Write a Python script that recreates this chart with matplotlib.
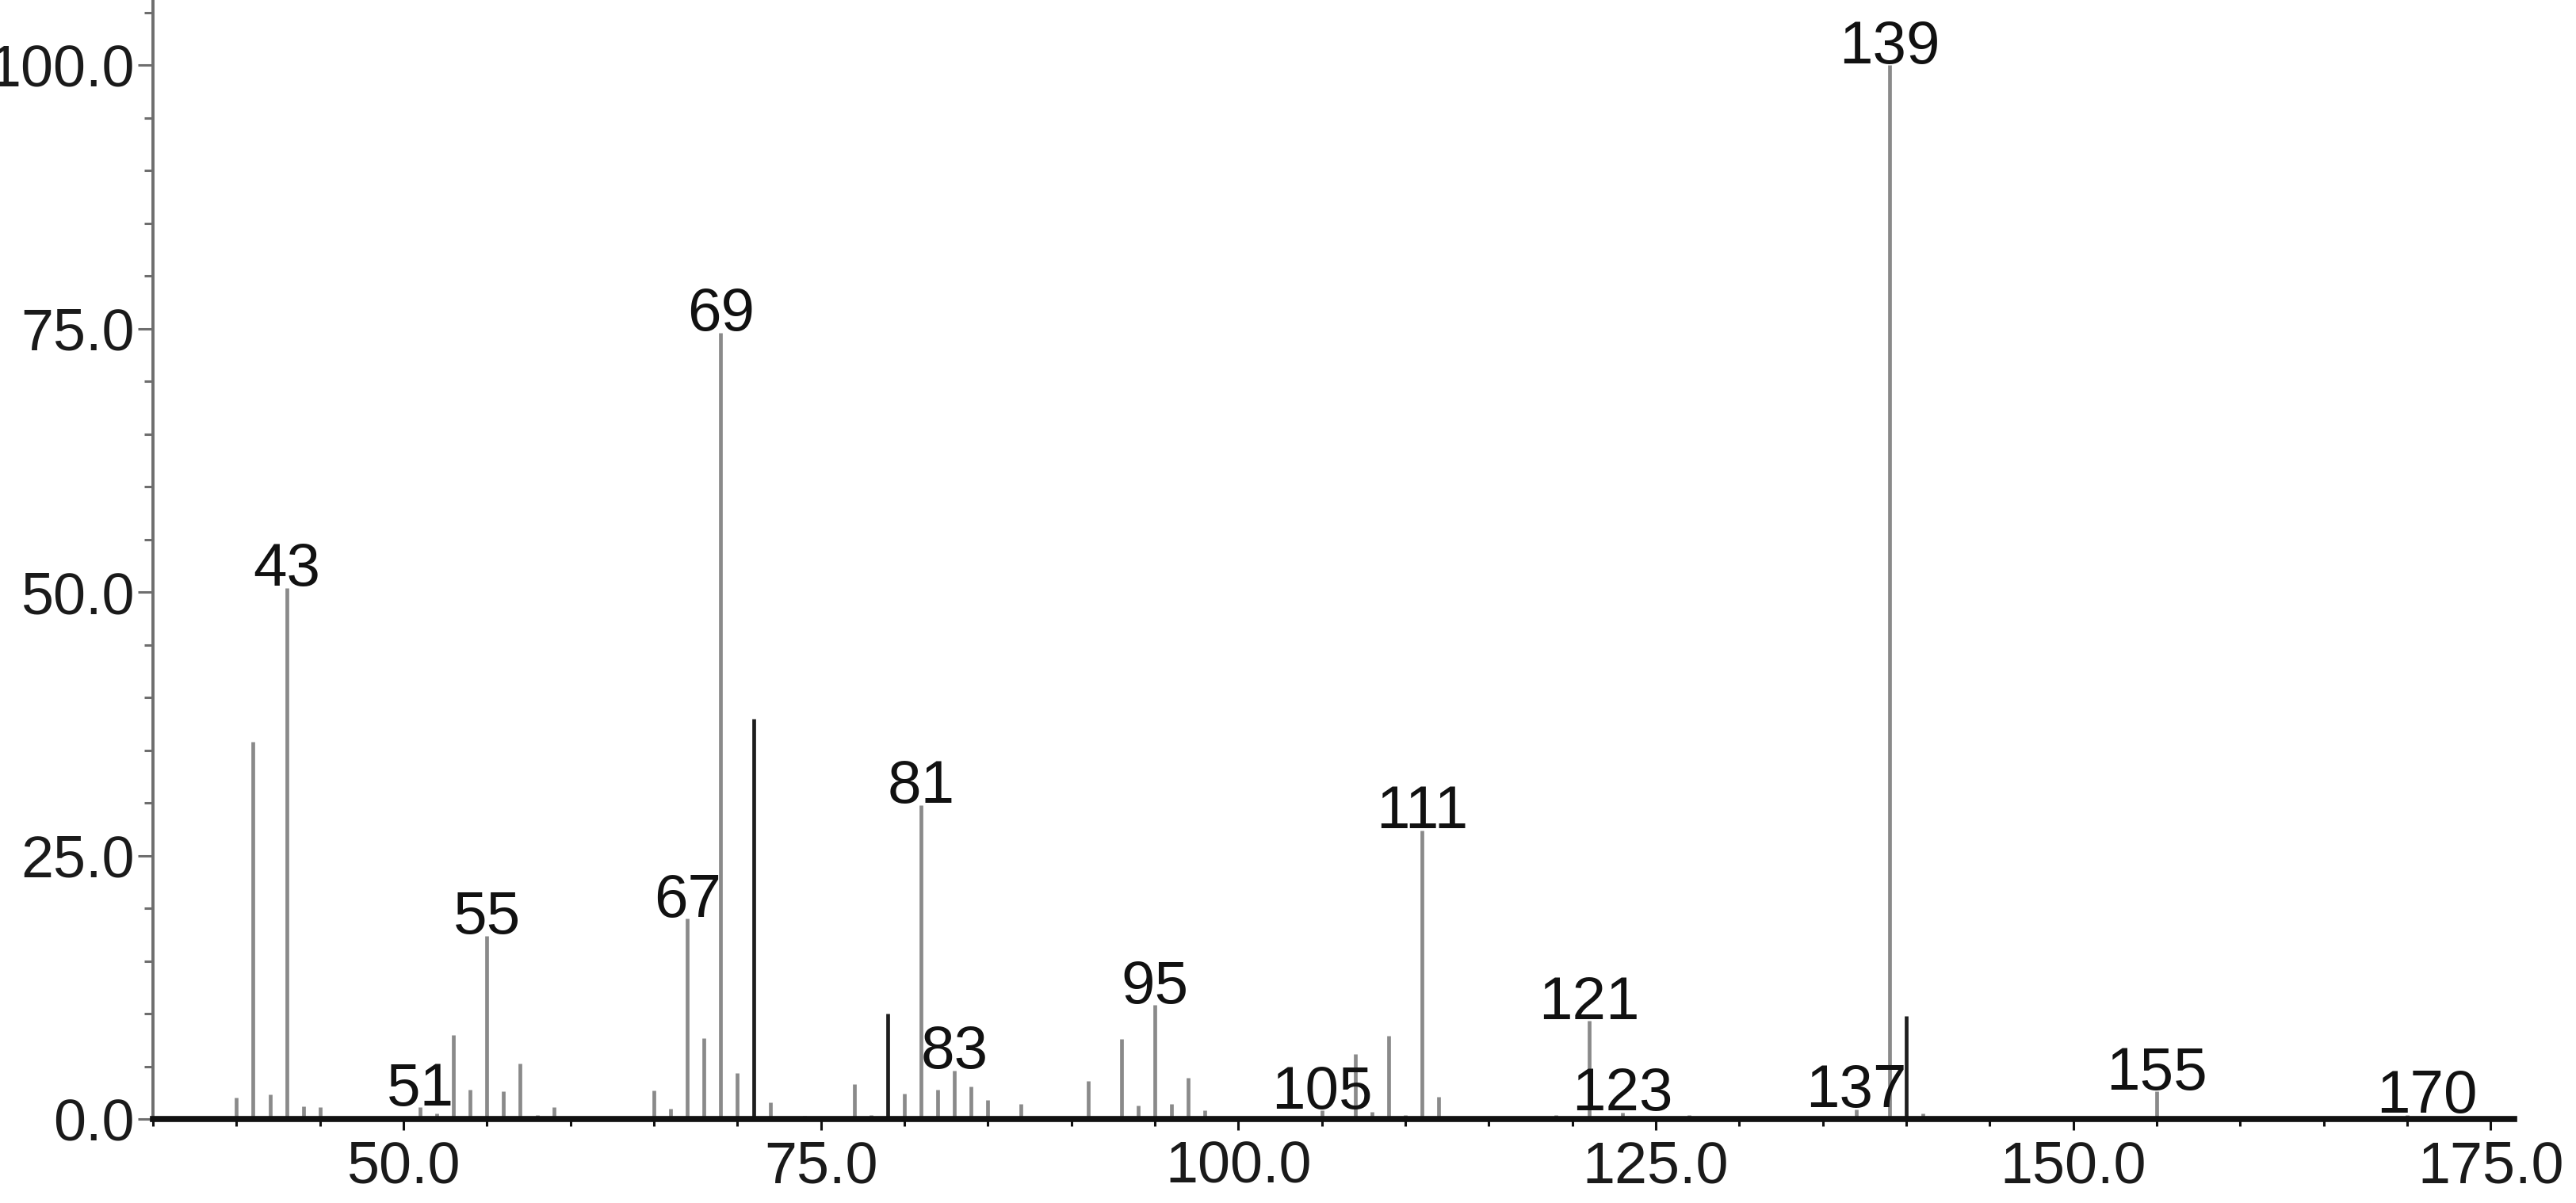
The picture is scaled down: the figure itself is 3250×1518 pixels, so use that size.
import matplotlib
matplotlib.use("Agg")
import matplotlib.pyplot as plt
from matplotlib.ticker import MultipleLocator, FormatStrFormatter

plt.rcParams['font.family'] = ['Liberation Sans', 'DejaVu Sans']

# mass spectrum peaks (m/z, relative intensity %)
mz = [40, 41, 42, 43, 44, 45, 51, 52, 53, 54, 55, 56, 57, 58, 59, 60,
      65, 66, 67, 68, 69, 70, 71, 72, 74, 77, 78, 79, 80, 81, 82, 83,
      84, 85, 87, 91, 93, 94, 95, 96, 97, 98, 105, 107, 108, 109, 110,
      111, 112, 119, 121, 123, 127, 137, 139, 140, 141, 155, 170]
intensity = [2.0, 35.8, 2.3, 50.4, 1.2, 1.1, 1.1, 0.5, 8.0, 2.8, 17.4, 2.6, 5.3, 0.4, 1.1, 0.2,
             2.7, 1.0, 19.0, 7.7, 74.6, 4.4, 38.0, 1.6, 0.3, 3.3, 0.4, 10.0, 2.4, 29.8, 2.8, 4.6,
             3.1, 1.8, 1.4, 3.6, 7.6, 1.3, 10.8, 1.4, 3.9, 0.8, 0.8, 6.2, 0.7, 7.9, 0.4,
             27.4, 2.1, 0.4, 9.3, 0.6, 0.4, 0.9, 100.0, 9.8, 0.5, 2.6, 0.4]

labelled = [43, 51, 55, 67, 69, 81, 83, 95, 105, 111, 121, 123, 137, 139, 155, 170]

# styling
dark_peaks = {71, 79, 140}
label_shift = {170: 1.2}

fig = plt.figure(figsize=(32.5, 15.18), dpi=100)
ax = fig.add_axes([0.0594, 0.0698, 0.9165, 0.9302])

colors = ['#1e1e1e' if m in dark_peaks else '#8a8a8a' for m in mz]
ax.vlines(mz, 0, intensity, colors=colors, linewidth=3.4, zorder=2)

for m in labelled:
    h = intensity[mz.index(m)]
    ax.annotate(str(m), (m + label_shift.get(m, 0), h), xytext=(0, 2),
                textcoords='offset points', ha='center', va='baseline',
                fontsize=55, color='#111111', zorder=3)

ax.set_xlim(35, 176.4)
ax.set_ylim(0, 106.2)

for s in ['top', 'right']:
    ax.spines[s].set_visible(False)
ax.spines['left'].set_color('#6e6e6e')
ax.spines['left'].set_linewidth(2.8)
ax.spines['bottom'].set_color('#111111')
ax.spines['bottom'].set_linewidth(5.5)
ax.spines['bottom'].set_zorder(4)

ax.xaxis.set_major_locator(MultipleLocator(25))
ax.xaxis.set_minor_locator(MultipleLocator(5))
ax.yaxis.set_major_locator(MultipleLocator(25))
ax.yaxis.set_minor_locator(MultipleLocator(5))
ax.xaxis.set_major_formatter(FormatStrFormatter('%.1f'))
ax.yaxis.set_major_formatter(FormatStrFormatter('%.1f'))

ax.tick_params(axis='x', which='major', direction='out', length=10, width=2.2,
               color='#111111', labelsize=53, pad=9, labelcolor='#1a1a1a')
ax.tick_params(axis='x', which='minor', direction='out', length=6.5, width=2.2,
               color='#111111')
ax.tick_params(axis='y', which='major', direction='out', length=14, width=2.2,
               color='#6e6e6e', labelsize=53, pad=3, labelcolor='#1a1a1a')
ax.tick_params(axis='y', which='minor', direction='out', length=8, width=2.2,
               color='#6e6e6e')

fig.savefig('out.png', dpi=100, facecolor='white')
